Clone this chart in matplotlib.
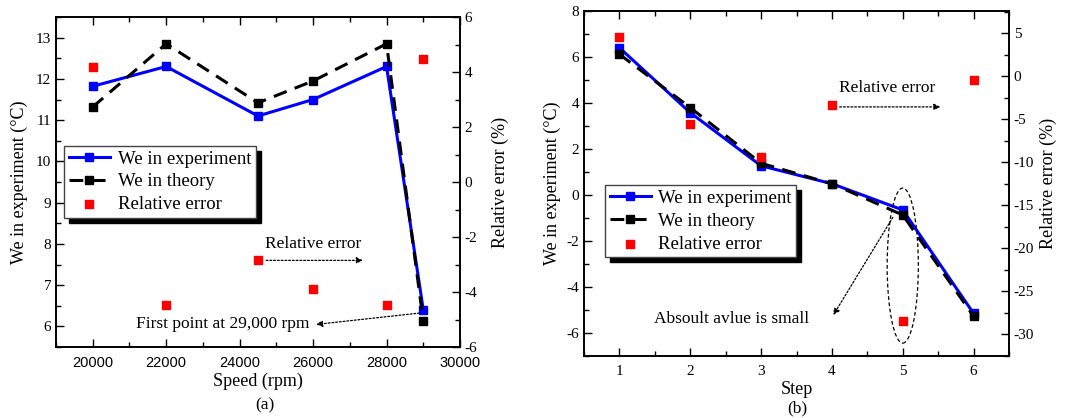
import numpy as np
import matplotlib
matplotlib.use('Agg')
import matplotlib.pyplot as plt
from matplotlib.patches import Ellipse, Rectangle
from matplotlib.ticker import MultipleLocator

plt.rcParams['font.family'] = ['Liberation Serif', 'DejaVu Serif']
plt.rcParams['axes.unicode_minus'] = False

# (a) speed sweep
speed = [20000, 22000, 24500, 26000, 28000, 29000]
we_exp_a = [11.82, 12.30, 11.10, 11.50, 12.30, 6.40]
we_theory_a = [11.32, 12.85, 11.42, 11.95, 12.85, 6.12]
rel_err_a = [4.18, -4.46, -2.82, -3.90, -4.48, 4.49]

# (b) steps
step = [1, 2, 3, 4, 5, 6]
we_exp_b = [6.40, 3.58, 1.27, 0.49, -0.65, -5.15]
we_theory_b = [6.12, 3.80, 1.38, 0.49, -0.87, -5.27]
rel_err_b = [4.58, -5.56, -9.40, -3.38, -28.4, -0.47]

W, H = 1069, 418
fig = plt.figure(figsize=(W / 100, H / 100), dpi=100)


def px_axes(l, r, t, b):
    return fig.add_axes([l / W, (H - b) / H, (r - l) / W, (b - t) / H])


def style(ax, ax2):
    for a in (ax, ax2):
        a.tick_params(which='both', direction='in', labelsize=11)
        a.tick_params(which='major', length=6, width=1)
        a.tick_params(which='minor', length=3.5, width=1)
        for s in a.spines.values():
            s.set_linewidth(1.2)
    ax.tick_params(which='both', top=True, right=False)
    ax.tick_params(axis='x', pad=6.5)
    ax2.tick_params(which='both', left=False, right=True)


def draw(ax, x, exp, theory):
    ax.plot(x, exp, color='blue', lw=2.2, marker='s', ms=5.5,
            label='We in experiment', zorder=3)
    ax.plot(x, theory, color='black', lw=2.2, ls=(0, (4.5, 2.8)), marker='s',
            ms=5.5, label='We in theory', zorder=3)


legends = []


def legend(ax, ax2, anchor):
    h1, l1 = ax.get_legend_handles_labels()
    h2, l2 = ax2.get_legend_handles_labels()
    leg = ax2.legend(h1 + h2, l1 + l2, loc='upper left', bbox_to_anchor=anchor,
                     borderaxespad=0, fancybox=False, framealpha=1,
                     edgecolor='#444444', fontsize=13.5, handlelength=2.2,
                     handletextpad=0.4, labelspacing=0.3, borderpad=0.25)
    leg.get_frame().set_linewidth(1.0)
    legends.append((ax2, leg))


arrow = dict(arrowstyle='-|>', ls=(0, (1.5, 1.5)), lw=0.9, color='k',
             mutation_scale=9)

# ---------- (a) ----------
ax = px_axes(56, 460, 17, 347)
ax2 = ax.twinx()
draw(ax, speed, we_exp_a, we_theory_a)
ax2.scatter(speed, rel_err_a, marker='s', s=32, color='red',
            label='Relative error', zorder=4)
ax.set_xlim(19000, 30000)
ax.set_ylim(5.5, 13.5)
ax2.set_ylim(-6, 6)
ax.xaxis.set_major_locator(MultipleLocator(2000))
ax.xaxis.set_minor_locator(MultipleLocator(1000))
ax.yaxis.set_major_locator(MultipleLocator(1))
ax.yaxis.set_minor_locator(MultipleLocator(0.5))
ax2.yaxis.set_major_locator(MultipleLocator(2))
ax2.yaxis.set_minor_locator(MultipleLocator(1))
style(ax, ax2)
for lab in ax.get_xticklabels():
    lab.set_family('Liberation Sans')
    lab.set_fontsize(10.5)
ax.set_xlabel('Speed (rpm)', fontsize=13, labelpad=2)
ax.set_ylabel('We in experiment (°C)', fontsize=13, labelpad=6)
ax2.set_ylabel('Relative error (%)', fontsize=13, labelpad=10)
legend(ax, ax2, (0.02, 0.61))
ax.annotate('', xy=(27430, 7.6), xytext=(24646, 7.6), arrowprops=arrow)
ax.text(24700, 7.99, 'Relative error', fontsize=12.5, va='center', ha='left')
ax.annotate('', xy=(26008, 6.04), xytext=(28972, 6.33), arrowprops=arrow)
ax.text(23540, 6.06, 'First point at 29,000 rpm', fontsize=12.5,
        va='center', ha='center')
fig.text(265 / W, 1 - 405 / H, '(a)', fontsize=12.5, ha='center', va='center')

# ---------- (b) ----------
bx = px_axes(584, 1009, 11, 356)
bx2 = bx.twinx()
draw(bx, step, we_exp_b, we_theory_b)
bx2.scatter(step, rel_err_b, marker='s', s=32, color='red',
            label='Relative error', zorder=4)
bx.set_xlim(0.5, 6.5)
bx.set_ylim(-7, 8)
bx2.set_ylim(-32.5, 7.6)
bx.xaxis.set_major_locator(MultipleLocator(1))
bx.xaxis.set_minor_locator(MultipleLocator(0.5))
bx.yaxis.set_major_locator(MultipleLocator(2))
bx.yaxis.set_minor_locator(MultipleLocator(1))
bx2.yaxis.set_major_locator(MultipleLocator(5))
bx2.yaxis.set_minor_locator(MultipleLocator(2.5))
style(bx, bx2)
bx.set_xlabel('Step', fontsize=13, labelpad=2)
bx.set_ylabel('We in experiment (°C)', fontsize=13, labelpad=4)
bx2.set_ylabel('Relative error (%)', fontsize=13, labelpad=4)
legend(bx, bx2, (0.049, 0.495))
bx.add_patch(Ellipse((5.0, -3.07), 0.44, 6.74, fill=False, ls=(0, (3, 2)),
                     lw=0.9, color='k', zorder=5))
bx.annotate('', xy=(5.57, 3.83), xytext=(4.07, 3.83), arrowprops=arrow)
bx.text(4.1, 4.65, 'Relative error', fontsize=12.5, va='center', ha='left')
bx.annotate('', xy=(4.0, -5.32), xytext=(4.88, -0.87), arrowprops=arrow)
bx.text(2.59, -5.39, 'Absoult avlue is small', fontsize=12.5,
        va='center', ha='center')
fig.text(797 / W, 1 - 408 / H, '(b)', fontsize=12.5, ha='center', va='center')

# thick black drop shadow behind each legend box
fig.canvas.draw()
for a2, leg in legends:
    bb = leg.get_frame().get_window_extent()
    a2.add_artist(Rectangle((bb.x0 + 5, bb.y0 - 5), bb.width, bb.height,
                            transform=None, facecolor='k', edgecolor='k',
                            zorder=4.9, clip_on=False))

fig.savefig('out.png', dpi=100)
